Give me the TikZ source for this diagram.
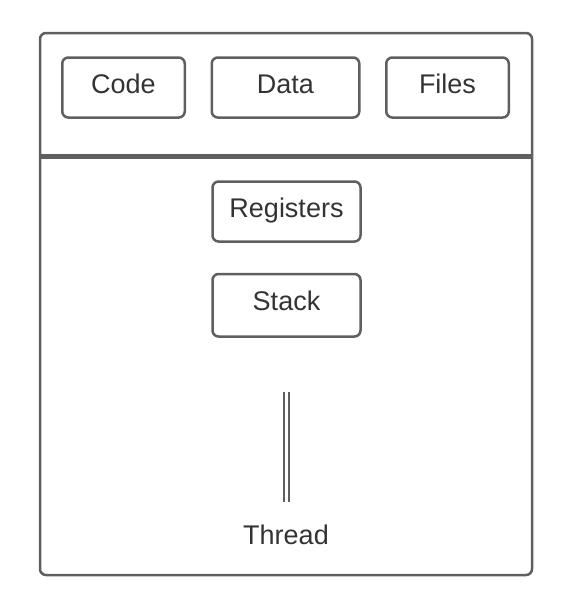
\documentclass[tikz,border=0pt]{standalone}
\usepackage{fontspec}
\setmainfont{Liberation Sans}
\usetikzlibrary{positioning}
\definecolor{linegray}{RGB}{95,95,95}
\definecolor{textgray}{RGB}{51,51,51}

\begin{document}
\begin{tikzpicture}[x=1pt,y=-1pt,
    box/.style={draw=linegray, line width=2.5pt, rounded corners=6pt,
      minimum height=60pt, text=textgray, text height=19pt, text depth=8pt,
      font=\fontsize{27}{32}\selectfont},
    label/.style={text=textgray, text height=19pt, text depth=8pt,
      font=\fontsize{27}{32}\selectfont},
    node distance=24.5pt]
  \useasboundingbox (0,0) rectangle (562,592);
  % process frame and divider
  \coordinate (frametl) at (40,33);
  \coordinate (framebr) at (532,575);
  \draw[draw=linegray, line width=2.5pt, rounded corners=6pt] (frametl) rectangle (framebr);
  \coordinate (divl) at (40,156);
  \coordinate (divr) at (532,156);
  \draw[draw=linegray, line width=5pt] (divl) -- (divr);
  % shared parts
  \node[box, minimum width=147.5pt] (data) at (285.5,87.5) {Data};
  \node[box, minimum width=122.5pt, left=of data] (code) {Code};
  \node[box, minimum width=122.5pt, right=of data] (files) {Files};
  % per thread parts
  \node[box, minimum width=148pt] (registers) at (286.5,211.5) {Registers};
  \node[box, minimum width=148pt, minimum height=62.5pt, below=30pt of registers] (stack) {Stack};
  \coordinate (threadtop) at (286,392);
  \coordinate (threadbot) at (286,502);
  \draw[draw=linegray, line width=2pt, double distance=3pt] (threadtop) -- (threadbot);
  \node[label] (thread) at (286,539) {Thread};
\end{tikzpicture}
\end{document}
